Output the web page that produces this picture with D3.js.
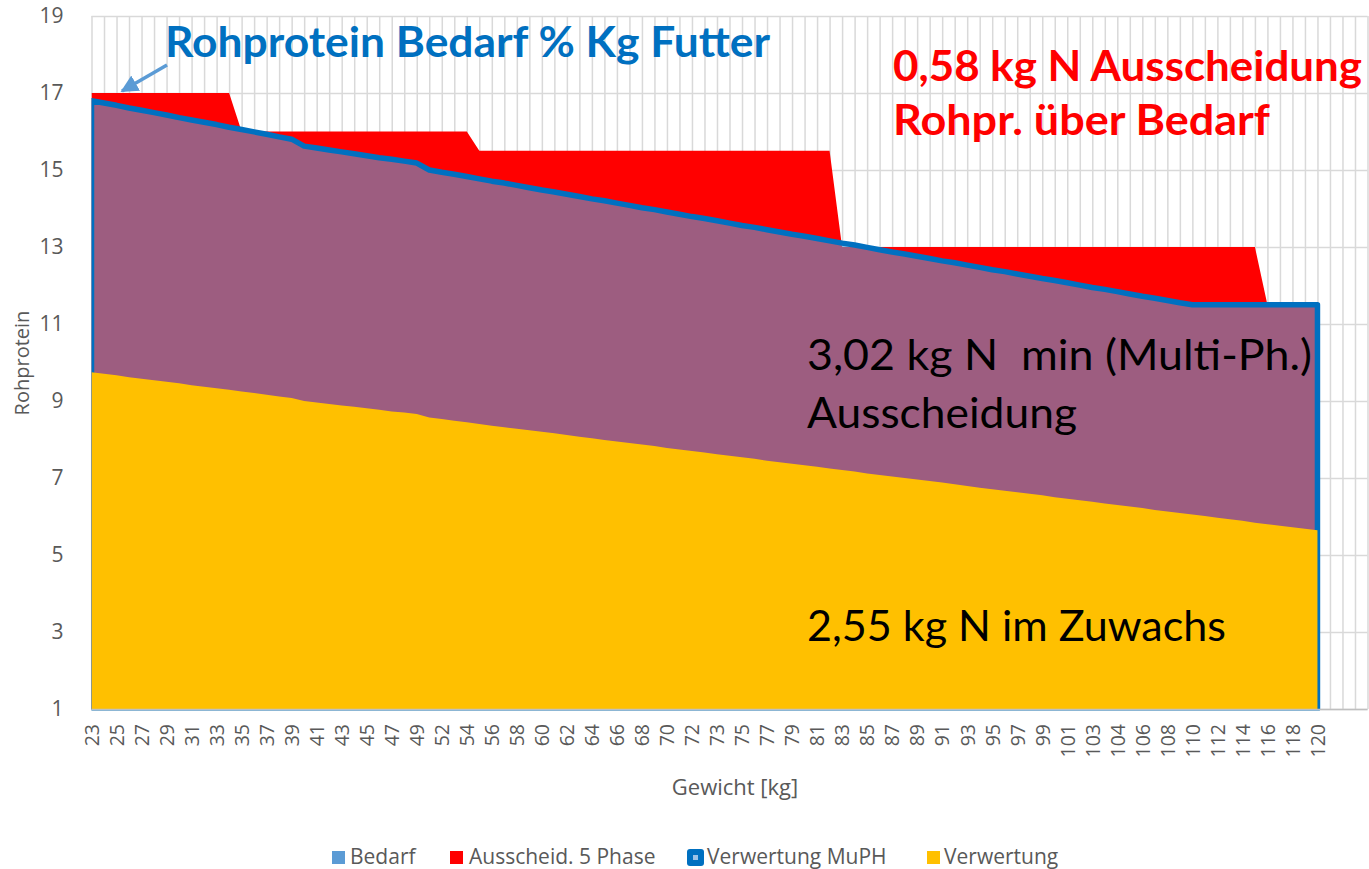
<!DOCTYPE html>
<html>
<head>
<meta charset="utf-8">
<script src="https://cdnjs.cloudflare.com/ajax/libs/d3/7.8.5/d3.min.js"></script>
<style>
   body { margin: 0; background: #fff; }
   svg { display: block; }
   text { font-family: 'Open Sans', sans-serif; }
</style>
</head>
<body>
<div id="container"></div>
<script>
// Gewicht [kg] je Kategorie (4 leere Kategorien am Ende)
const gewicht = [
   23, 24, 25, 26, 27, 28, 29, 30, 31, 32, 33, 34, 35, 36, 37, 38, 39, 40, 41, 42,
   43, 44, 45, 46, 47, 48, 49, 51, 52, 53, 54, 55, 56, 57, 58, 59, 60, 61, 62, 63,
   64, 65, 66, 67, 68, 69, 70, 71, 72, 72, 73, 74, 75, 76, 77, 78, 79, 80, 81, 82,
   83, 84, 85, 86, 87, 88, 89, 90, 91, 92, 93, 94, 95, 96, 97, 98, 99, 100, 101, 102,
   103, 103, 104, 105, 106, 107, 108, 109, 110, 111, 112, 113, 114, 115, 116, 117, 118, 119, 120,
   '', '', '', ''
];

const bedarf = [
   16.80, 16.74, 16.68, 16.61, 16.55, 16.49, 16.43, 16.36, 16.30, 16.24,
   16.18, 16.11, 16.05, 15.99, 15.93, 15.86, 15.80, 15.62, 15.57, 15.52,
   15.47, 15.42, 15.37, 15.32, 15.28, 15.23, 15.18, 15.00, 14.94, 14.89,
   14.83, 14.77, 14.71, 14.66, 14.60, 14.54, 14.48, 14.43, 14.37, 14.31,
   14.25, 14.20, 14.14, 14.08, 14.02, 13.97, 13.91, 13.85, 13.79, 13.74,
   13.68, 13.62, 13.56, 13.51, 13.45, 13.39, 13.33, 13.28, 13.22, 13.16,
   13.10, 13.05, 12.99, 12.93, 12.87, 12.82, 12.76, 12.70, 12.64, 12.59,
   12.53, 12.47, 12.41, 12.36, 12.30, 12.24, 12.18, 12.13, 12.07, 12.01,
   11.95, 11.90, 11.84, 11.78, 11.72, 11.67, 11.61, 11.55, 11.50, 11.50,
   11.50, 11.50, 11.50, 11.50, 11.50, 11.50, 11.50, 11.50, 11.50
];

const ausscheid5Phase = [
   17, 17, 17, 17, 17, 17, 17, 17, 17, 17, 17, 17,
   16, 16, 16, 16, 16, 16, 16, 16, 16, 16, 16, 16, 16, 16, 16, 16, 16, 16, 16,
   15.5, 15.5, 15.5, 15.5, 15.5, 15.5, 15.5, 15.5, 15.5, 15.5, 15.5, 15.5, 15.5, 15.5, 15.5,
   15.5, 15.5, 15.5, 15.5, 15.5, 15.5, 15.5, 15.5, 15.5, 15.5, 15.5, 15.5, 15.5, 15.5,
   13, 13, 13, 13, 13, 13, 13, 13, 13, 13, 13, 13, 13, 13, 13, 13, 13,
   13, 13, 13, 13, 13, 13, 13, 13, 13, 13, 13, 13, 13, 13, 13, 13, 13,
   11.5, 11.5, 11.5, 11.5, 11.5
];

const verwertungMuPH = bedarf.slice();

const verwertung = [
   9.75, 9.71, 9.67, 9.62, 9.58, 9.54, 9.50, 9.46, 9.41, 9.37,
   9.33, 9.29, 9.25, 9.21, 9.16, 9.12, 9.08, 9.00, 8.96, 8.92,
   8.88, 8.85, 8.81, 8.77, 8.73, 8.70, 8.66, 8.57, 8.53, 8.49,
   8.45, 8.40, 8.36, 8.32, 8.28, 8.24, 8.20, 8.16, 8.12, 8.07,
   8.03, 7.99, 7.95, 7.91, 7.87, 7.83, 7.78, 7.74, 7.70, 7.66,
   7.62, 7.58, 7.54, 7.50, 7.45, 7.41, 7.37, 7.33, 7.29, 7.25,
   7.21, 7.17, 7.12, 7.08, 7.04, 7.00, 6.96, 6.92, 6.88, 6.84,
   6.79, 6.75, 6.71, 6.67, 6.63, 6.59, 6.55, 6.50, 6.46, 6.42,
   6.38, 6.34, 6.30, 6.26, 6.22, 6.17, 6.13, 6.09, 6.05, 6.01,
   5.97, 5.93, 5.89, 5.84, 5.80, 5.76, 5.72, 5.68, 5.64
];

const rohproteinTicks = [1, 3, 5, 7, 9, 11, 13, 15, 17, 19];
const serien = ['Bedarf', 'Ausscheid. 5 Phase', 'Verwertung MuPH', 'Verwertung'];

const w = 1369;
const h = 869;
const pLeft = 91.5, pRight = 1367.5, pTop = 16, pBottom = 709;

const svg = d3.select('#container')
   .append('svg')
   .attr('width', w)
   .attr('height', h);

const x = d3.scalePoint()
   .domain(d3.range(gewicht.length))
   .range([pLeft, pRight]);

const y = d3.scaleLinear()
   .domain([1, 19])
   .range([pBottom, pTop]);

svg.append('defs')
   .append('clipPath')
   .attr('id', 'plot')
   .append('rect')
   .attr('x', pLeft)
   .attr('y', pTop)
   .attr('width', pRight - pLeft)
   .attr('height', pBottom - pTop + 1.5);

// gridlines
svg.append('g')
   .attr('transform', 'translate(0,' + pBottom + ')')
   .call(d3.axisBottom(x).tickSize(-(pBottom - pTop)).tickFormat(''))
   .call(g => g.select('.domain').remove())
   .call(g => g.selectAll('line').attr('stroke', '#d9d9d9').attr('stroke-width', 1.5));

svg.append('g')
   .attr('transform', 'translate(' + pLeft + ',0)')
   .call(d3.axisLeft(y).tickValues(rohproteinTicks).tickSize(-(pRight - pLeft)).tickFormat(''))
   .call(g => g.select('.domain').remove())
   .call(g => g.selectAll('line').attr('stroke', '#d9d9d9').attr('stroke-width', 1.5));

const area = d3.area()
   .x((d, i) => x(i))
   .y0(y(1))
   .y1(d => y(d));

const plot = svg.append('g').attr('clip-path', 'url(#plot)');

plot.append('path')
   .datum(ausscheid5Phase)
   .attr('d', area)
   .attr('fill', '#ff0000');

plot.append('path')
   .datum(bedarf)
   .attr('d', area)
   .attr('fill', '#5b9bd5')
   .attr('fill-opacity', 0.6);

plot.append('path')
   .datum(verwertungMuPH)
   .attr('d', area)
   .attr('fill', 'none')
   .attr('stroke', '#0070c0')
   .attr('stroke-width', 5.5)
   .attr('stroke-linejoin', 'round');

plot.append('path')
   .datum(verwertung)
   .attr('d', area)
   .attr('fill', '#ffc000');

// axes
svg.append('line')
   .attr('x1', pLeft).attr('x2', pRight)
   .attr('y1', pBottom + 0.5).attr('y2', pBottom + 0.5)
   .attr('stroke', '#bfbfbf')
   .attr('stroke-width', 1.5);

const xAxis = svg.append('g')
   .attr('transform', 'translate(0,' + pBottom + ')')
   .call(d3.axisBottom(x).tickValues(d3.range(0, 99, 2)).tickSize(0).tickFormat(i => gewicht[i]));
xAxis.select('.domain').remove();
xAxis.selectAll('text')
   .attr('transform', 'rotate(-90)')
   .attr('x', -15)
   .attr('y', 0)
   .attr('dy', '0.35em')
   .attr('text-anchor', 'end')
   .attr('fill', '#595959')
   .style('font-size', '19.5px');

const yAxis = svg.append('g')
   .attr('transform', 'translate(' + pLeft + ',0)')
   .call(d3.axisLeft(y).tickValues(rohproteinTicks).tickSize(0).tickPadding(28));
yAxis.select('.domain').remove();
yAxis.selectAll('text')
   .attr('fill', '#595959')
   .style('font-size', '21px');

svg.append('text')
   .attr('transform', 'translate(29,363) rotate(-90)')
   .attr('text-anchor', 'middle')
   .attr('fill', '#595959')
   .style('font-size', '20px')
   .text('Rohprotein');

svg.append('text')
   .attr('x', 735)
   .attr('y', 795)
   .attr('text-anchor', 'middle')
   .attr('fill', '#595959')
   .style('font-size', '22px')
   .text('Gewicht [kg]');

// legend
const legendX = [332, 450, 687, 927];
const legendTextX = [350, 469, 707, 944];
const legendFarbe = ['#5b9bd5', '#ff0000', '#0070c0', '#ffc000'];

const legend = svg.append('g');
serien.forEach((s, i) => {
   if (i === 2) {
      legend.append('rect')
         .attr('x', legendX[i]).attr('y', 849)
         .attr('width', 17).attr('height', 17)
         .attr('rx', 3)
         .attr('fill', legendFarbe[i]);
      legend.append('rect')
         .attr('x', legendX[i] + 6).attr('y', 855)
         .attr('width', 5).attr('height', 5)
         .attr('fill', '#9dc3e6');
   } else {
      legend.append('rect')
         .attr('x', legendX[i]).attr('y', 851)
         .attr('width', 13).attr('height', 13)
         .attr('fill', legendFarbe[i]);
   }
   legend.append('text')
      .attr('x', legendTextX[i])
      .attr('y', 864)
      .attr('fill', '#595959')
      .style('font-size', '21px')
      .text(s);
});

// annotations
const notes = [
   {t: 'Rohprotein Bedarf % Kg Futter', x: 165, y: 57, len: 605, c: '#0070c0', b: true},
   {t: '0,58 kg N Ausscheidung', x: 893, y: 81, len: 469, c: '#ff0000', b: true},
   {t: 'Rohpr. über Bedarf', x: 893, y: 135, len: 377, c: '#ff0000', b: true},
   {t: '3,02 kg N  min (Multi-Ph.)', x: 807, y: 370, len: 505, c: '#000000', b: false},
   {t: 'Ausscheidung', x: 807, y: 428, len: 270, c: '#000000', b: false},
   {t: '2,55 kg N im Zuwachs', x: 807, y: 641, len: 419, c: '#000000', b: false}
];

svg.selectAll('.note')
   .data(notes)
   .enter()
   .append('text')
   .attr('class', 'note')
   .attr('x', d => d.x)
   .attr('y', d => d.y)
   .attr('textLength', d => d.len)
   .attr('lengthAdjust', 'spacingAndGlyphs')
   .attr('fill', d => d.c)
   .style('font-family', 'Lato, sans-serif')
   .style('font-size', '42px')
   .style('font-weight', d => d.b ? 'bold' : 'normal')
   .style('white-space', 'pre')
   .text(d => d.t);

svg.select('defs')
   .append('marker')
   .attr('id', 'pfeil')
   .attr('viewBox', '0 0 10 10')
   .attr('refX', 9)
   .attr('refY', 5)
   .attr('markerWidth', 5)
   .attr('markerHeight', 5)
   .attr('orient', 'auto')
   .append('path')
   .attr('d', 'M0,0 L10,5 L0,10 Z')
   .attr('fill', '#5b9bd5');

svg.append('line')
   .attr('x1', 167).attr('y1', 65)
   .attr('x2', 122).attr('y2', 91)
   .attr('stroke', '#5b9bd5')
   .attr('stroke-width', 3.5)
   .attr('marker-end', 'url(#pfeil)');
</script>
</body>
</html>
